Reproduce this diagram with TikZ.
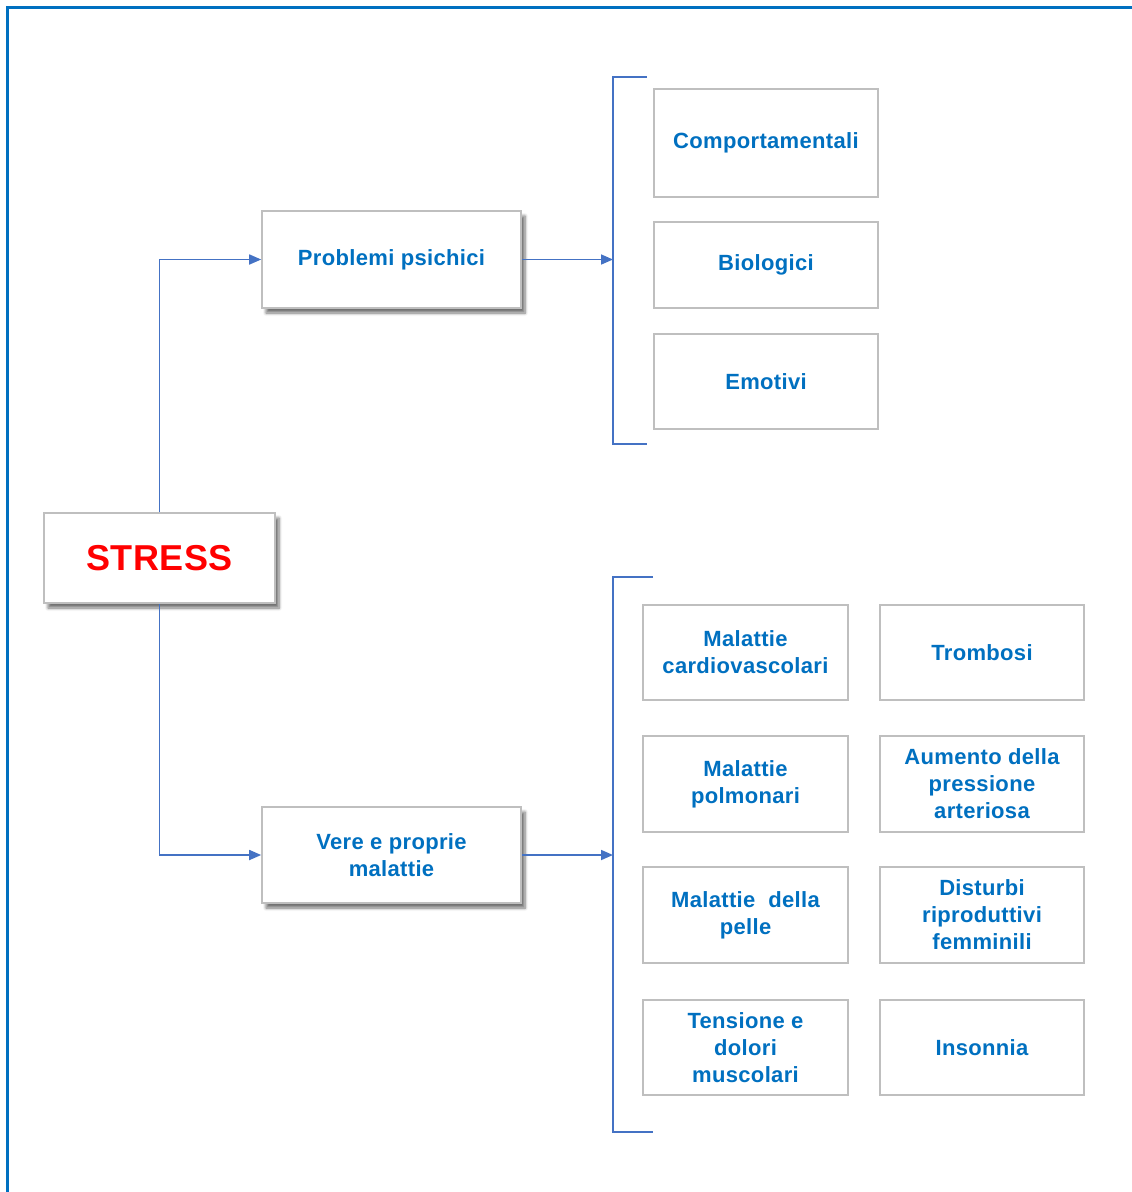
\documentclass[tikz,border=0pt]{standalone}
\usepackage{fontspec}
\setmainfont{Liberation Sans}[LetterSpace=1.5]
\usetikzlibrary{arrows.meta,shadows.blur}
\definecolor{frameblue}{HTML}{0070C0}
\definecolor{txtblue}{HTML}{0070C0}
\definecolor{linkblue}{HTML}{4472C4}
\definecolor{boxgray}{HTML}{BFBFBF}
\begin{document}
\begin{tikzpicture}[x=1pt,y=-1pt,
  box/.style={draw=boxgray, line width=1.6pt, fill=white, align=center,
    font=\fontsize{22}{27}\selectfont\bfseries, text=txtblue, inner sep=0pt},
  shadowbox/.style={box, blur shadow={shadow xshift=4pt, shadow yshift=-5pt,
    shadow blur radius=3pt, shadow blur steps=6, shadow opacity=55}},
  conn/.style={draw=linkblue, line width=1.7pt},
  arr/.style={conn, -{Triangle[length=12pt,width=10pt]}}]
\useasboundingbox (0,0) rectangle (1132,1192);
% outer frame (top and left edges)
\draw[frameblue, line width=3pt] (7.5,1192) -- (7.5,7.5) -- (1132,7.5);

% main boxes
\node[shadowbox, minimum width=231pt, minimum height=90pt,
  font=\fontsize{36}{40}\selectfont\bfseries, text=red] (stress) at (159.5,558) {STRESS};
\node[shadowbox, minimum width=259pt, minimum height=97pt] (prob) at (391.5,259.5) {Problemi psichici};
\node[shadowbox, minimum width=259pt, minimum height=96pt] (vere) at (391.5,855) {Vere e proprie\\malattie};

% upper group
\node[box, minimum width=224pt, minimum height=108pt] (comp) at (766,143) {\raisebox{-2pt}{Comportamentali}};
\node[box, minimum width=224pt, minimum height=86pt] (bio) at (766,265) {\raisebox{-2pt}{Biologici}};
\node[box, minimum width=224pt, minimum height=95pt] (emo) at (766,381.5) {Emotivi};

% lower group
\node[box, minimum width=205pt, minimum height=95pt] (cardio) at (745.5,652.5) {Malattie\\cardiovascolari};
\node[box, minimum width=204pt, minimum height=95pt] (trombo) at (982,652.5) {Trombosi};
\node[box, minimum width=205pt, minimum height=96pt] (polm) at (745.5,784) {Malattie\\polmonari};
\node[box, minimum width=204pt, minimum height=96pt] (press) at (982,784) {Aumento della\\pressione\\arteriosa};
\node[box, minimum width=205pt, minimum height=96pt] (pelle) at (745.5,915) {Malattie\ \ della\\pelle};
\node[box, minimum width=204pt, minimum height=96pt] (ripro) at (982,915) {Disturbi\\riproduttivi\\femminili};
\node[box, minimum width=205pt, minimum height=95pt] (tens) at (745.5,1047.5) {Tensione e\\dolori\\muscolari};
\node[box, minimum width=204pt, minimum height=95pt] (inson) at (982,1047.5) {Insonnia};

% brackets
\coordinate (ua) at (647,77);
\coordinate (ub) at (613,77);
\coordinate (uc) at (613,444);
\coordinate (ud) at (647,444);
\coordinate (la) at (653,577);
\coordinate (lb) at (613,577);
\coordinate (lc) at (613,1132);
\coordinate (ld) at (653,1132);
\draw[conn] (ua) -- (ub) -- (uc) -- (ud);
\draw[conn] (la) -- (lb) -- (lc) -- (ld);

% connectors
\draw[arr] (stress.north) |- (prob.west);
\draw[arr] (stress.south) |- (vere.west);
\draw[arr] (prob.east) -- (prob.east -| ub);
\draw[arr] (vere.east) -- (vere.east -| lb);
\end{tikzpicture}
\end{document}
